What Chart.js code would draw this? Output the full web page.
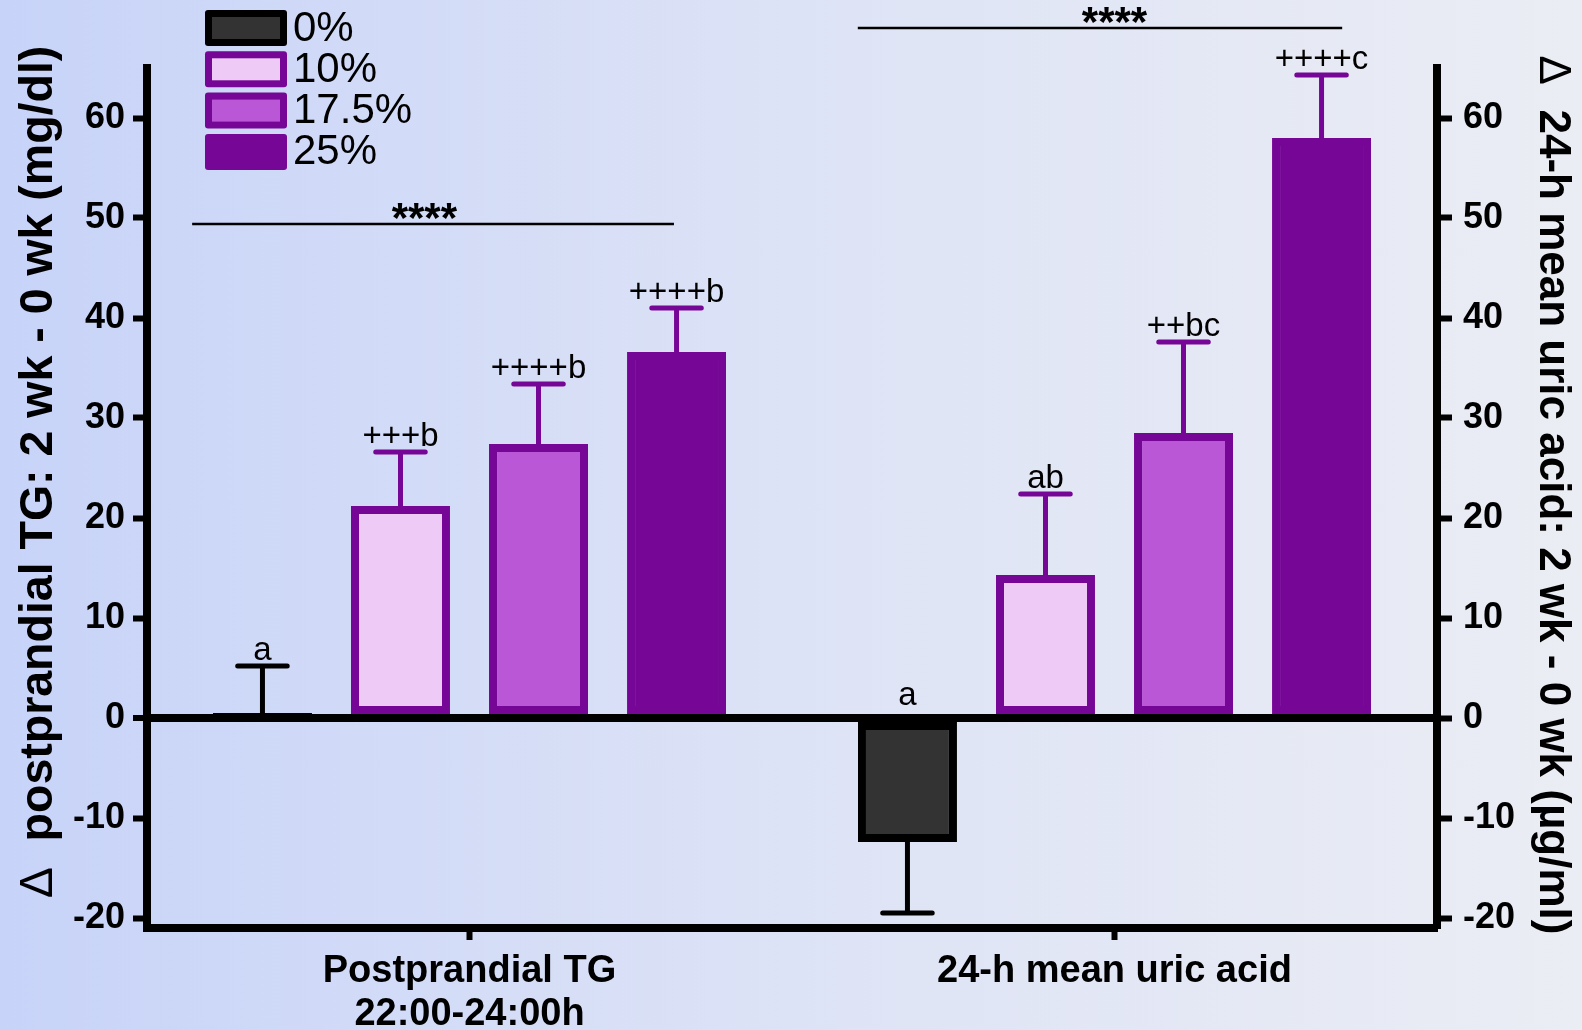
<!DOCTYPE html>
<html>
<head>
<meta charset="utf-8">
<script src="https://cdn.jsdelivr.net/npm/chart.js@4.4.1/dist/chart.umd.min.js"></script>
<style>
  html, body { margin: 0; padding: 0; width: 1582px; height: 1030px; overflow: hidden; }
  body { background: linear-gradient(to right, #c7d3f8 0%, #dde3f6 50%, #ebedf4 100%); }
  #c { display: block; }
</style>
</head>
<body>
<canvas id="c" width="1582" height="1030"></canvas>
<script>
// Groups on the x axis
const categories = [['Postprandial TG', '22:00-24:00h'], '24-h mean uric acid'];

// Fructose dose series
const seriesNames = ['0%', '10%', '17.5%', '25%'];

// Change (2 wk - 0 wk) per group: [postprandial TG, 24-h uric acid]
const dose0 = [0.5, -12.4];
const dose10 = [21.2, 14.3];
const dose175 = [27.4, 28.5];
const dose25 = [36.6, 58.0];

// One-sided SEM per group
const sem0 = [4.7, 7.1];
const sem10 = [5.4, 8.1];
const sem175 = [6.0, 9.1];
const sem25 = [4.4, 6.3];

// Letters / significance marks above each bar
const marks0 = ['a', 'a'];
const marks10 = ['+++b', 'ab'];
const marks175 = ['++++b', '++bc'];
const marks25 = ['++++b', '++++c'];

// Overall dose-trend brackets: [from, to] in category units, level on the y scale
const trendStars = ['****', '****'];
const trendSpan = [[-0.43, 0.317], [0.602, 1.353]];
const trendStarPos = [-0.07, 1.0];
const trendLevel = [49.4, 69.0];

// Y axis ticks (both sides)
const yTicks = [-20, -10, 0, 10, 20, 30, 40, 50, 60];

// Axis titles
const leftTitle = ['Δ', '  postprandial TG: 2 wk - 0 wk (mg/dl)'];
const rightTitle = ['Δ', '  24-h mean uric acid: 2 wk - 0 wk (µg/ml)'];

const FONT = "'Liberation Sans', Arial, Helvetica, sans-serif";
const PURPLE = '#760796';

const seriesValues = [dose0, dose10, dose175, dose25];
const seriesErr = [sem0, sem10, sem175, sem25];
const seriesMarks = [marks0, marks10, marks175, marks25];
const fills = ['#333333', '#eecaf6', '#b957d6', PURPLE];
const borders = ['#000000', PURPLE, PURPLE, PURPLE];

const datasets = seriesNames.map((name, i) => ({
  label: name,
  data: seriesValues[i],
  errors: seriesErr[i],
  marks: seriesMarks[i],
  backgroundColor: fills[i],
  borderColor: borders[i],
  borderWidth: 8,
  borderSkipped: false,
  categoryPercentage: 0.856,
  barPercentage: 0.717
}));

// Error bars (one-sided, away from zero) and their letters
const errorBarPlugin = {
  id: 'errorBars',
  afterDatasetsDraw(chart) {
    const ctx = chart.ctx;
    const y = chart.scales.y;
    chart.data.datasets.forEach((ds, i) => {
      const meta = chart.getDatasetMeta(i);
      meta.data.forEach((bar, j) => {
        const v = ds.data[j];
        const e = ds.errors[j];
        const end = v >= 0 ? v + e : v - e;
        const yEnd = y.getPixelForValue(end);
        const half = bar.width * 0.25;
        ctx.save();
        ctx.strokeStyle = ds.borderColor;
        ctx.lineWidth = 5;
        ctx.lineCap = 'butt';
        ctx.beginPath();
        ctx.moveTo(bar.x, bar.y);
        ctx.lineTo(bar.x, yEnd);
        ctx.stroke();
        ctx.lineCap = 'round';
        ctx.beginPath();
        ctx.moveTo(bar.x - half, yEnd);
        ctx.lineTo(bar.x + half, yEnd);
        ctx.stroke();
        // letter label
        const labelY = v >= 0 ? yEnd - 6 : y.getPixelForValue(0) - 13;
        ctx.fillStyle = '#000';
        ctx.font = `33px ${FONT}`;
        ctx.textAlign = 'center';
        ctx.textBaseline = 'alphabetic';
        ctx.fillText(ds.marks[j], bar.x, labelY);
        ctx.restore();
      });
    });
  }
};

// Trend brackets with stars
const trendPlugin = {
  id: 'trend',
  afterDraw(chart) {
    const ctx = chart.ctx;
    const x = chart.scales.x;
    const y = chart.scales.y;
    trendStars.forEach((stars, k) => {
      const x1 = x.getPixelForValue(trendSpan[k][0]);
      const x2 = x.getPixelForValue(trendSpan[k][1]);
      const xs = x.getPixelForValue(trendStarPos[k]);
      const yy = y.getPixelForValue(trendLevel[k]);
      ctx.save();
      ctx.strokeStyle = '#000';
      ctx.lineWidth = 2.5;
      ctx.beginPath();
      ctx.moveTo(x1, yy);
      ctx.lineTo(x2, yy);
      ctx.stroke();
      ctx.fillStyle = '#000';
      ctx.font = `bold 42px ${FONT}`;
      ctx.textAlign = 'center';
      ctx.textBaseline = 'alphabetic';
      ctx.fillText(stars, xs, yy + 8);
      ctx.restore();
    });
  }
};

// Legend in the upper-left corner
const legendPlugin = {
  id: 'boxLegend',
  afterDraw(chart) {
    const ctx = chart.ctx;
    const bx = 205, by = 10, bw = 82, bh = 36, step = 41.3, bwid = 7;
    chart.data.datasets.forEach((ds, i) => {
      const top = by + i * step;
      ctx.save();
      ctx.fillStyle = ds.borderColor;
      ctx.beginPath();
      ctx.roundRect(bx, top, bw, bh, 3);
      ctx.fill();
      ctx.fillStyle = ds.backgroundColor;
      ctx.fillRect(bx + bwid, top + bwid, bw - 2 * bwid, bh - 2 * bwid);
      ctx.fillStyle = '#000';
      ctx.font = `42px ${FONT}`;
      ctx.textAlign = 'left';
      ctx.textBaseline = 'middle';
      ctx.fillText(ds.label, 293, top + bh / 2 + 1);
      ctx.restore();
    });
  }
};

// Rotated axis titles: thin delta followed by bold text
function drawTitle(ctx, parts, cx, cy, rot, size) {
  ctx.save();
  ctx.translate(cx, cy);
  ctx.rotate(rot);
  ctx.fillStyle = '#000';
  ctx.textBaseline = 'middle';
  ctx.textAlign = 'left';
  const fonts = [`${size}px ${FONT}`, `bold ${size}px ${FONT}`];
  let total = 0;
  const widths = parts.map((p, i) => { ctx.font = fonts[i]; const w = ctx.measureText(p).width; total += w; return w; });
  let xPos = -total / 2;
  parts.forEach((p, i) => { ctx.font = fonts[i]; ctx.fillText(p, xPos, 0); xPos += widths[i]; });
  ctx.restore();
}

const titlePlugin = {
  id: 'axisTitles',
  afterDraw(chart) {
    const ctx = chart.ctx;
    const area = chart.chartArea;
    const mid = (area.top + area.bottom) / 2;
    drawTitle(ctx, leftTitle, chart.scales.y.left + 39, mid - 26, -Math.PI / 2, 46.5);
    drawTitle(ctx, rightTitle, chart.scales.y2.right - 30, mid - 3, Math.PI / 2, 44);
  }
};

const fixedTicks = (scale) => { scale.ticks = yTicks.map(v => ({ value: v })); };

new Chart(document.getElementById('c'), {
  type: 'bar',
  data: { labels: categories, datasets },
  options: {
    responsive: false,
    devicePixelRatio: 1,
    animation: false,
    layout: { padding: { top: 68, left: 0, right: 0, bottom: 0 } },
    plugins: { legend: { display: false }, tooltip: { enabled: false } },
    scales: {
      x: {
        offset: true,
        grid: {
          offset: false,
          drawOnChartArea: false,
          drawTicks: true,
          tickLength: 12,
          tickWidth: 6,
          tickColor: '#000'
        },
        border: { display: true, color: '#000', width: 8 },
        ticks: {
          color: '#000',
          font: { family: FONT, size: 38, weight: 'bold', lineHeight: 1.13 },
          padding: 10,
          maxRotation: 0,
          autoSkip: false
        },
        afterFit(scale) { scale.height = 102; }
      },
      y: {
        position: 'left',
        min: -21,
        max: 65,
        afterBuildTicks: fixedTicks,
        grid: {
          drawOnChartArea: true,
          color: (c) => (c.tick && c.tick.value === 0 ? '#000' : 'rgba(0,0,0,0)'),
          lineWidth: (c) => (c.tick && c.tick.value === 0 ? 8 : 1),
          drawTicks: true,
          tickLength: 14,
          tickWidth: 6,
          tickColor: '#000'
        },
        border: { display: true, color: '#000', width: 8 },
        ticks: {
          color: '#000',
          font: { family: FONT, size: 36, weight: 'bold' },
          padding: 8
        },
        afterFit(scale) { scale.width = 147; }
      },
      y2: {
        position: 'right',
        min: -21,
        max: 65,
        afterBuildTicks: fixedTicks,
        grid: {
          drawOnChartArea: false,
          drawTicks: true,
          tickLength: 15,
          tickWidth: 6,
          tickColor: '#000'
        },
        border: { display: true, color: '#000', width: 8 },
        ticks: {
          color: '#000',
          font: { family: FONT, size: 36, weight: 'bold' },
          padding: 11
        },
        afterFit(scale) { scale.width = 145; }
      }
    }
  },
  plugins: [errorBarPlugin, trendPlugin, legendPlugin, titlePlugin]
});
</script>
</body>
</html>
